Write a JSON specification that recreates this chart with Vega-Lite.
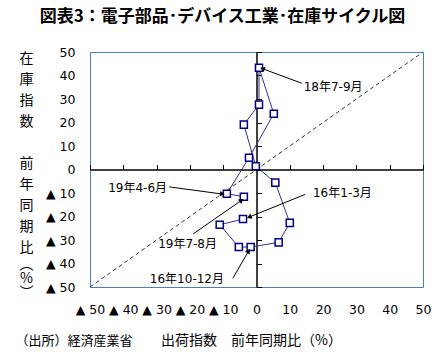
{
  "$schema": "https://vega.github.io/schema/vega-lite/v6.json",
  "width": 333,
  "height": 235,
  "autosize": "none",
  "padding": {"left": 90, "top": 52, "right": 13, "bottom": 65},
  "title": {
    "text": "図表3：電子部品･デバイス工業･在庫サイクル図",
    "anchor": "middle",
    "fontSize": 17,
    "fontWeight": "bold",
    "font": "Noto Sans CJK JP",
    "color": "black",
    "dx": -34,
    "offset": 20
  },
  "datasets": {
    "diag": [{"x": -50, "y": -50, "x2": 50, "y2": 50}],
    "cycle": [
      {"i": 1, "period": "16年1-3月", "x": -4.05, "y": -21.1},
      {"i": 2, "period": "16年4-6月", "x": -11.05, "y": -23.5},
      {"i": 3, "period": "16年7-9月", "x": -5.3, "y": -33.0},
      {"i": 4, "period": "16年10-12月", "x": -1.75, "y": -33.0},
      {"i": 5, "period": "17年1-3月", "x": 6.65, "y": -31.0},
      {"i": 6, "period": "17年4-6月", "x": 10.0, "y": -22.7},
      {"i": 7, "period": "17年7-9月", "x": 5.65, "y": -5.6},
      {"i": 8, "period": "17年10-12月", "x": -0.2, "y": 1.4},
      {"i": 9, "period": "18年1-3月", "x": -3.8, "y": 19.1},
      {"i": 10, "period": "18年4-6月", "x": 0.75, "y": 27.6},
      {"i": 11, "period": "18年7-9月", "x": 0.75, "y": 43.3},
      {"i": 12, "period": "18年10-12月", "x": 5.2, "y": 23.7},
      {"i": 13, "period": "19年1-3月", "x": -2.25, "y": 5.0},
      {"i": 14, "period": "19年4-6月", "x": -8.9, "y": -10.3},
      {"i": 15, "period": "19年7-8月", "x": -3.8, "y": -11.6}
    ],
    "notes": [
      {"label": "18年7-9月", "lx": 23.0, "ly": 35.3, "x": 13.6, "y": 36.7, "x2": 2.0, "y2": 42.8},
      {"label": "16年1-3月", "lx": 25.8, "ly": -10.0, "x": 14.6, "y": -10.6, "x2": -1.95, "y2": -20.1},
      {"label": "19年4-6月", "lx": -35.7, "ly": -7.9, "x": -26.2, "y": -7.4, "x2": -10.5, "y2": -10.4},
      {"label": "19年7-8月", "lx": -20.7, "ly": -31.7, "x": -19.0, "y": -27.4, "x2": -4.7, "y2": -13.3},
      {"label": "16年10-12月", "lx": -20.9, "ly": -46.6, "x": -7.1, "y": -46.3, "x2": -2.5, "y2": -35.0}
    ]
  },
  "layer": [
    {
      "data": {"name": "diag"},
      "mark": {"type": "rule", "strokeDash": [4, 3], "color": "#333333", "strokeWidth": 1},
      "encoding": {
        "x": {
          "field": "x", "type": "quantitative",
          "scale": {"domain": [-50, 50], "nice": false, "zero": false},
          "axis": {
            "orient": "bottom",
            "values": [-50, -40, -30, -20, -10, 0, 10, 20, 30, 40, 50],
            "domain": false, "ticks": false, "grid": false,
            "labelPadding": 16, "labelFlush": false, "labelOverlap": false, "labelBound": false,
            "labelExpr": "datum.value < 0 ? '▲ ' + abs(datum.value) : '' + datum.value",
            "labelFontSize": 12.5, "labelColor": "black",
            "title": "出荷指数　前年同期比（%）",
            "titleFontSize": 14, "titleFontWeight": "normal", "titleColor": "black",
            "titleX": 161, "titleY": 53, "titleAlign": "center", "titleBaseline": "middle"
          }
        },
        "y": {
          "field": "y", "type": "quantitative",
          "scale": {"domain": [-50, 50], "nice": false, "zero": false},
          "axis": {
            "orient": "left",
            "values": [-50, -40, -30, -20, -10, 0, 10, 20, 30, 40, 50],
            "domain": false, "ticks": false, "grid": false,
            "labelPadding": 15, "labelFlush": false, "labelOverlap": false, "labelBound": false,
            "labelExpr": "datum.value < 0 ? '▲ ' + abs(datum.value) : '' + datum.value",
            "labelFontSize": 12.5, "labelColor": "black",
            "title": ["在", "庫", "指", "数", "\u200b", "前", "年", "同", "期", "比"],
            "titleAngle": 0, "titleX": -64, "titleY": -1,
            "titleAlign": "center", "titleBaseline": "top", "titleLineHeight": 21.1,
            "titleFontSize": 14, "titleFontWeight": "normal", "titleColor": "black"
          }
        },
        "x2": {"field": "x2"},
        "y2": {"field": "y2"}
      }
    },
    {
      "data": {"name": "cycle"},
      "mark": {"type": "line", "color": "#2e3192", "strokeWidth": 1},
      "encoding": {
        "x": {
          "field": "x", "type": "quantitative",
          "scale": {"domain": [-50, 50], "nice": false, "zero": false},
          "axis": {
            "orient": "top", "offset": -117.5,
            "values": [-50, -40, -30, -20, -10, 0, 10, 20, 30, 40, 50],
            "domain": true, "domainColor": "black", "domainWidth": 1.5,
            "ticks": true, "tickColor": "black", "tickSize": 5, "tickWidth": 1,
            "labels": false, "grid": false,
            "title": "（出所）経済産業省",
            "titleX": -75, "titleY": 170.5, "titleAlign": "left", "titleBaseline": "middle",
            "titleFontSize": 13, "titleFontWeight": "normal", "titleColor": "black"
          }
        },
        "y": {
          "field": "y", "type": "quantitative",
          "scale": {"domain": [-50, 50], "nice": false, "zero": false},
          "axis": {
            "orient": "right", "offset": -166.5,
            "values": [-50, -40, -30, -20, -10, 0, 10, 20, 30, 40, 50],
            "domain": true, "domainColor": "black", "domainWidth": 1.5,
            "ticks": true, "tickColor": "black", "tickSize": 5, "tickWidth": 1,
            "labels": false, "grid": false,
            "title": ["︵", "%", "︶"],
            "titleAngle": 0, "titleX": -230.5, "titleY": 205,
            "titleAlign": "center", "titleBaseline": "top", "titleLineHeight": 14,
            "titleFontSize": 14, "titleFontWeight": "normal", "titleColor": "black"
          }
        },
        "order": {"field": "i", "type": "quantitative"}
      }
    },
    {
      "data": {"name": "cycle"},
      "mark": {"type": "point", "shape": "square", "filled": true, "fill": "white", "stroke": "#000080", "strokeWidth": 1.5, "size": 50, "opacity": 1},
      "encoding": {
        "x": {"field": "x", "type": "quantitative", "scale": {"domain": [-50, 50], "nice": false, "zero": false}, "axis": null},
        "y": {"field": "y", "type": "quantitative", "scale": {"domain": [-50, 50], "nice": false, "zero": false}, "axis": null}
      }
    },
    {
      "data": {"name": "notes"},
      "mark": {"type": "rule", "color": "black", "strokeWidth": 1},
      "encoding": {
        "x": {"field": "x", "type": "quantitative", "scale": {"domain": [-50, 50], "nice": false, "zero": false}, "axis": null},
        "y": {"field": "y", "type": "quantitative", "scale": {"domain": [-50, 50], "nice": false, "zero": false}, "axis": null},
        "x2": {"field": "x2"},
        "y2": {"field": "y2"}
      }
    },
    {
      "data": {"name": "notes"},
      "mark": {
        "type": "point", "shape": "triangle", "filled": true, "color": "black", "size": 30, "opacity": 1,
        "angle": {"expr": "atan2(scale('x', datum.x2) - scale('x', datum.x), scale('y', datum.y) - scale('y', datum.y2)) * 180 / PI"}
      },
      "encoding": {
        "x": {"field": "x2", "type": "quantitative", "scale": {"domain": [-50, 50], "nice": false, "zero": false}, "axis": null},
        "y": {"field": "y2", "type": "quantitative", "scale": {"domain": [-50, 50], "nice": false, "zero": false}, "axis": null}
      }
    },
    {
      "data": {"name": "notes"},
      "mark": {"type": "text", "fontSize": 12, "color": "black", "align": "center", "baseline": "middle"},
      "encoding": {
        "x": {"field": "lx", "type": "quantitative", "scale": {"domain": [-50, 50], "nice": false, "zero": false}, "axis": null},
        "y": {"field": "ly", "type": "quantitative", "scale": {"domain": [-50, 50], "nice": false, "zero": false}, "axis": null},
        "text": {"field": "label"}
      }
    }
  ],
  "resolve": {"axis": {"x": "independent", "y": "independent"}},
  "config": {
    "font": "DejaVu Sans, Noto Sans CJK JP",
    "view": {"stroke": "#4a7ebb", "strokeWidth": 1},
    "axis": {"labelFont": "DejaVu Sans, Noto Sans CJK JP", "titleFont": "Noto Sans CJK JP"},
    "text": {"font": "DejaVu Sans, Noto Sans CJK JP"}
  }
}
